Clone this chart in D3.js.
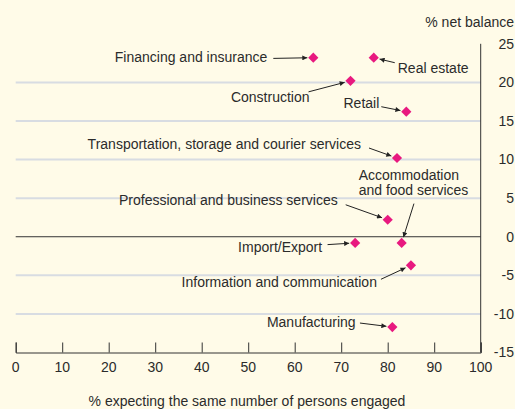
<!DOCTYPE html>
<html>
<head>
<meta charset="utf-8">
<script src="https://cdn.jsdelivr.net/npm/d3@7"></script>
<style>
  body { margin: 0; background: #fffbe8; }
  svg { display: block; font-family: "Liberation Sans", Arial, sans-serif; }
</style>
</head>
<body>
<svg id="chart" width="515" height="409"></svg>
<script>
// Sector survey: % expecting same headcount vs % net balance
const sectors = [
  "Financing and insurance", "Real estate", "Construction", "Retail",
  "Transportation, storage and courier services", "Accommodation and food services",
  "Professional and business services", "Import/Export",
  "Information and communication", "Manufacturing"
];
const sameShare = [64, 77, 72, 84, 82, 83, 80, 73, 85, 81];
const netBalance = [23.2, 23.2, 20.2, 16.2, 10.2, -0.8, 2.2, -0.8, -3.7, -11.7];
const xTicks = [0, 10, 20, 30, 40, 50, 60, 70, 80, 90, 100];
const yTicks = [25, 20, 15, 10, 5, 0, -5, -10, -15];

// label placement relative to each point (pixels): text offset, anchor, arrow start
const notes = [
  { dx: -46, dy: -1, anchor: "end", ax: -40, ay: 0.7 },
  { dx: 24, dy: 10, anchor: "start", ax: 21, ay: 5 },
  { dx: -41, dy: 16, anchor: "end", ax: -42, ay: 11 },
  { dx: -27, dy: -9, anchor: "end", ax: -25, ay: -5 },
  { dx: -36, dy: -14, anchor: "end", ax: -28, ay: -10 },
  { dx: -43, dy: -68.3, anchor: "start", ax: 12.3, ay: -39.3, lines: ["Accommodation", "and food services"] },
  { dx: -50, dy: -20, anchor: "end", ax: -42, ay: -15 },
  { dx: -33, dy: 4.5, anchor: "end", ax: -27.6, ay: 1.7 },
  { dx: -34, dy: 17.3, anchor: "end", ax: -30, ay: 14 },
  { dx: -36.7, dy: -5, anchor: "end", ax: -32.4, ay: -4 }
];

const svg = d3.select("#chart");
const x = d3.scaleLinear().domain([0, 100]).range([15.7, 480.7]);
const y = d3.scaleLinear().domain([-15, 25]).range([352.5, 43.8]);

svg.append("rect").attr("width", 515).attr("height", 409).attr("fill", "#fffbe8");

// gridlines
svg.append("g")
  .selectAll("line")
  .data(yTicks.filter((d) => d !== 25 && d !== -15 && d !== 0))
  .join("line")
  .attr("x1", x(0)).attr("x2", x(100))
  .attr("y1", (d) => y(d)).attr("y2", (d) => y(d))
  .attr("stroke", "#d8dce2").attr("stroke-width", 2);

// zero line
svg.append("line")
  .attr("x1", x(0)).attr("x2", x(100))
  .attr("y1", y(0)).attr("y2", y(0))
  .attr("stroke", "#333").attr("stroke-width", 1);

// x axis
const xAxis = svg.append("g")
  .attr("transform", `translate(0,${y(-15)})`)
  .call(d3.axisTop(x).tickValues(xTicks).tickSize(10).tickFormat(""));
xAxis.select(".domain").attr("stroke", "#333");
xAxis.selectAll(".tick line").attr("stroke", "#333");

svg.append("g")
  .attr("font-size", 14)
  .attr("fill", "#2b2b2b")
  .selectAll("text")
  .data(xTicks)
  .join("text")
  .attr("x", (d) => x(d))
  .attr("y", 367.5)
  .attr("dy", "0.35em")
  .attr("text-anchor", "middle")
  .text((d) => d);

// right y axis
svg.append("line")
  .attr("x1", x(100)).attr("x2", x(100))
  .attr("y1", y(25)).attr("y2", y(-15))
  .attr("stroke", "#333");

svg.append("g")
  .attr("font-size", 14)
  .attr("fill", "#2b2b2b")
  .selectAll("text")
  .data(yTicks)
  .join("text")
  .attr("x", 514)
  .attr("y", (d) => y(d))
  .attr("dy", "0.35em")
  .attr("text-anchor", "end")
  .text((d) => d);

svg.append("text")
  .attr("x", 514).attr("y", 22).attr("dy", "0.35em")
  .attr("text-anchor", "end").attr("font-size", 14).attr("fill", "#2b2b2b")
  .text("% net balance");

svg.append("text")
  .attr("x", 247).attr("y", 401).attr("dy", "0.35em")
  .attr("text-anchor", "middle").attr("font-size", 14).attr("fill", "#2b2b2b")
  .text("% expecting the same number of persons engaged");

// arrow marker
svg.append("defs").append("marker")
  .attr("id", "arrow")
  .attr("viewBox", "0 0 10 10")
  .attr("refX", 10).attr("refY", 5)
  .attr("markerWidth", 7).attr("markerHeight", 5)
  .attr("markerUnits", "userSpaceOnUse")
  .attr("orient", "auto")
  .append("path")
  .attr("d", "M0,0 L10,5 L0,10 Z")
  .attr("fill", "#222");

const data = sectors.map((name, i) => ({
  name, px: x(sameShare[i]), py: y(netBalance[i]), note: notes[i]
}));

// arrows
svg.append("g")
  .selectAll("line")
  .data(data)
  .join("line")
  .each(function (d) {
    const sx = d.px + d.note.ax, sy = d.py + d.note.ay;
    const vx = d.px - sx, vy = d.py - sy;
    const len = Math.hypot(vx, vy);
    const gap = 6;
    d3.select(this)
      .attr("x1", sx).attr("y1", sy)
      .attr("x2", d.px - (vx / len) * gap)
      .attr("y2", d.py - (vy / len) * gap);
  })
  .attr("stroke", "#222")
  .attr("stroke-width", 1)
  .attr("marker-end", "url(#arrow)");

// labels: one text element per line
const labelRows = data.flatMap((d) =>
  (d.note.lines || [d.name]).map((line, i) => ({
    line,
    x: d.px + d.note.dx,
    y: d.py + d.note.dy + i * 15.8,
    anchor: d.note.anchor
  }))
);

svg.append("g")
  .attr("font-size", 14)
  .attr("fill", "#2b2b2b")
  .selectAll("text")
  .data(labelRows)
  .join("text")
  .attr("x", (d) => d.x)
  .attr("y", (d) => d.y)
  .attr("dy", "0.35em")
  .attr("text-anchor", (d) => d.anchor)
  .text((d) => d.line);

// diamonds
svg.append("g")
  .selectAll("path")
  .data(data)
  .join("path")
  .attr("d", d3.symbol(d3.symbolSquare, 52))
  .attr("transform", (d) => `translate(${d.px},${d.py}) rotate(45)`)
  .attr("fill", "#e8197f");
</script>
</body>
</html>
